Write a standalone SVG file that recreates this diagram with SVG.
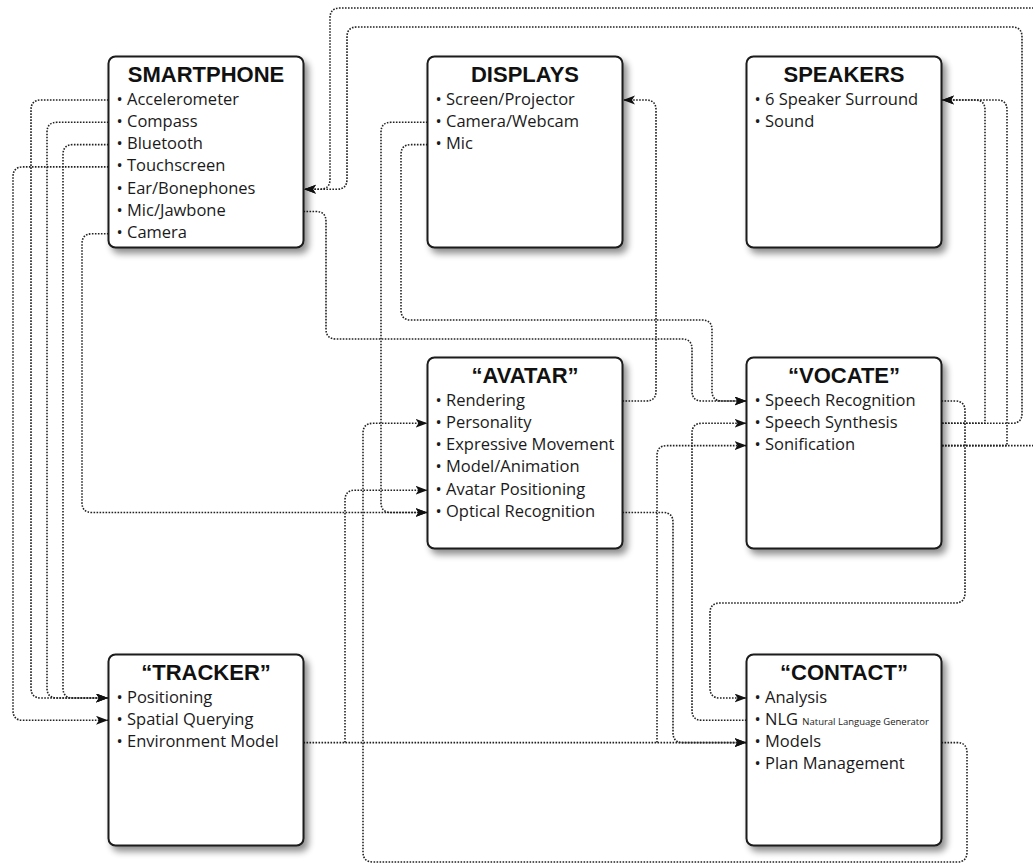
<svg xmlns="http://www.w3.org/2000/svg" width="1033" height="865" viewBox="0 0 1033 865">
<style>
.box{fill:#fff;stroke:#1a1a1a;stroke-width:2}
.title{font-family:"Liberation Sans",Arial,sans-serif;font-weight:bold;font-size:22px;text-anchor:middle;fill:#111}
.item{font-family:"Open Sans","Liberation Sans",sans-serif;font-size:16.5px;fill:#1a1a1a}
.small{font-size:9.5px}
.conn{fill:none;stroke:#222;stroke-width:1.6;stroke-dasharray:1.6 1.4}
.arr{marker-end:url(#ah)}
</style>
<defs>
<marker id="ah" markerUnits="userSpaceOnUse" markerWidth="14" markerHeight="10" refX="12" refY="4.5" orient="auto">
<path d="M0,0 L12,4.5 L0,9 L3,4.5 Z" fill="#111"/>
</marker>
<filter id="sh" x="-10%" y="-10%" width="125%" height="125%">
<feGaussianBlur in="SourceAlpha" stdDeviation="3.5"/>
<feOffset dx="4" dy="5" result="b"/>
<feComponentTransfer><feFuncA type="linear" slope="0.45"/></feComponentTransfer>
<feMerge><feMergeNode/><feMergeNode in="SourceGraphic"/></feMerge>
</filter>
</defs>
<rect width="1033" height="865" fill="#fff"/>
<g id="connectors">
<path class="conn arr" d="M108.5,100 H41 Q31,100 31,110 V688 Q31,698 41,698 H108"/>
<path class="conn arr" d="M108.5,122.3 H57 Q47,122.3 47,132.3 V688 Q47,698 57,698 H108"/>
<path class="conn arr" d="M108.5,144.6 H73 Q63,144.6 63,154.6 V688 Q63,698 73,698 H108"/>
<path class="conn arr" d="M108.5,166.9 H23 Q13,166.9 13,176.9 V710.3 Q13,720.3 23,720.3 H108"/>
<path class="conn arr" d="M108.5,233.8 H92 Q82,233.8 82,243.8 V502.5 Q82,512.5 92,512.5 H427.5"/>
<path class="conn arr" d="M942,423.3 H1012 Q1022,423.3 1022,413.3 V37 Q1022,27 1012,27 H357 Q347,27 347,37 V179.2 Q347,189.2 337,189.2 H304"/>
<path class="conn arr" d="M942,445.6 H1045 V8 H340 Q330,8 330,18 V179.2 Q330,189.2 320,189.2 H304"/>
<path class="conn arr" d="M942,423.3 H985 V110 Q985,100 975,100 H942"/>
<path class="conn arr" d="M942,445.6 H1007 V110 Q1007,100 997,100 H942"/>
<path class="conn arr" d="M303.5,211.5 H316 Q326,211.5 326,221.5 V329 Q326,339 336,339 H682 Q692,339 692,349 V391 Q692,401 702,401 H746.5"/>
<path class="conn arr" d="M427.5,144.6 H411 Q401,144.6 401,154.6 V310 Q401,320 411,320 H702 Q712,320 712,330 V391 Q712,401 722,401 H746.5"/>
<path class="conn arr" d="M427.5,122.3 H391 Q381,122.3 381,132.3 V502.5 Q381,512.5 391,512.5 H427.5"/>
<path class="conn arr" d="M622.5,401 H646 Q656,401 656,391 V110 Q656,100 646,100 H623"/>
<path class="conn arr" d="M303.5,742.6 H746.5"/>
<path class="conn arr" d="M345,742.6 V500.2 Q345,490.2 355,490.2 H427.5"/>
<path class="conn arr" d="M657,742.6 V455.6 Q657,445.6 667,445.6 H746.5"/>
<path class="conn arr" d="M622.5,512.5 H663 Q673,512.5 673,522.5 V732.6 Q673,742.6 683,742.6 H746.5"/>
<path class="conn arr" d="M746.5,720.3 H702 Q692,720.3 692,710.3 V433.3 Q692,423.3 702,423.3 H746.5"/>
<path class="conn arr" d="M941.5,401 H955 Q965,401 965,411 V593 Q965,603 955,603 H720 Q710,603 710,613 V688 Q710,698 720,698 H746.5"/>
<path class="conn arr" d="M941.5,742.6 H957 Q967,742.6 967,752.6 V852 Q967,862 957,862 H373 Q363,862 363,852 V433.3 Q363,423.3 373,423.3 H427.5"/>
</g>
<g id="node-smartphone">
<rect class="box" filter="url(#sh)" x="108.5" y="56.5" width="195" height="191" rx="7"/>
<text class="title" x="206" y="82">SMARTPHONE</text>
<text class="item" x="116.5" y="104.5">• Accelerometer</text>
<text class="item" x="116.5" y="126.8">• Compass</text>
<text class="item" x="116.5" y="149.1">• Bluetooth</text>
<text class="item" x="116.5" y="171.4">• Touchscreen</text>
<text class="item" x="116.5" y="193.7">• Ear/Bonephones</text>
<text class="item" x="116.5" y="216">• Mic/Jawbone</text>
<text class="item" x="116.5" y="238.3">• Camera</text>
</g>
<g id="node-displays">
<rect class="box" filter="url(#sh)" x="427.5" y="56.5" width="195" height="191" rx="7"/>
<text class="title" x="525" y="82">DISPLAYS</text>
<text class="item" x="435.5" y="104.5">• Screen/Projector</text>
<text class="item" x="435.5" y="126.8">• Camera/Webcam</text>
<text class="item" x="435.5" y="149.1">• Mic</text>
</g>
<g id="node-speakers">
<rect class="box" filter="url(#sh)" x="746.5" y="56.5" width="195" height="191" rx="7"/>
<text class="title" x="844" y="82">SPEAKERS</text>
<text class="item" x="754.5" y="104.5">• 6 Speaker Surround</text>
<text class="item" x="754.5" y="126.8">• Sound</text>
</g>
<g id="node-avatar">
<rect class="box" filter="url(#sh)" x="427.5" y="357.5" width="195" height="191" rx="7"/>
<text class="title" x="525" y="383">“AVATAR”</text>
<text class="item" x="435.5" y="405.5">• Rendering</text>
<text class="item" x="435.5" y="427.8">• Personality</text>
<text class="item" x="435.5" y="450.1">• Expressive Movement</text>
<text class="item" x="435.5" y="472.4">• Model/Animation</text>
<text class="item" x="435.5" y="494.7">• Avatar Positioning</text>
<text class="item" x="435.5" y="517">• Optical Recognition</text>
</g>
<g id="node-vocate">
<rect class="box" filter="url(#sh)" x="746.5" y="357.5" width="195" height="191" rx="7"/>
<text class="title" x="844" y="383">“VOCATE”</text>
<text class="item" x="754.5" y="405.5">• Speech Recognition</text>
<text class="item" x="754.5" y="427.8">• Speech Synthesis</text>
<text class="item" x="754.5" y="450.1">• Sonification</text>
</g>
<g id="node-tracker">
<rect class="box" filter="url(#sh)" x="108.5" y="654.5" width="195" height="191" rx="7"/>
<text class="title" x="206" y="680">“TRACKER”</text>
<text class="item" x="116.5" y="702.5">• Positioning</text>
<text class="item" x="116.5" y="724.8">• Spatial Querying</text>
<text class="item" x="116.5" y="747.1">• Environment Model</text>
</g>
<g id="node-contact">
<rect class="box" filter="url(#sh)" x="746.5" y="654.5" width="195" height="191" rx="7"/>
<text class="title" x="844" y="680">“CONTACT”</text>
<text class="item" x="754.5" y="702.5">• Analysis</text>
<text class="item" x="754.5" y="724.8">• NLG <tspan class="small">Natural Language Generator</tspan></text>
<text class="item" x="754.5" y="747.1">• Models</text>
<text class="item" x="754.5" y="769.4">• Plan Management</text>
</g>
</svg>
